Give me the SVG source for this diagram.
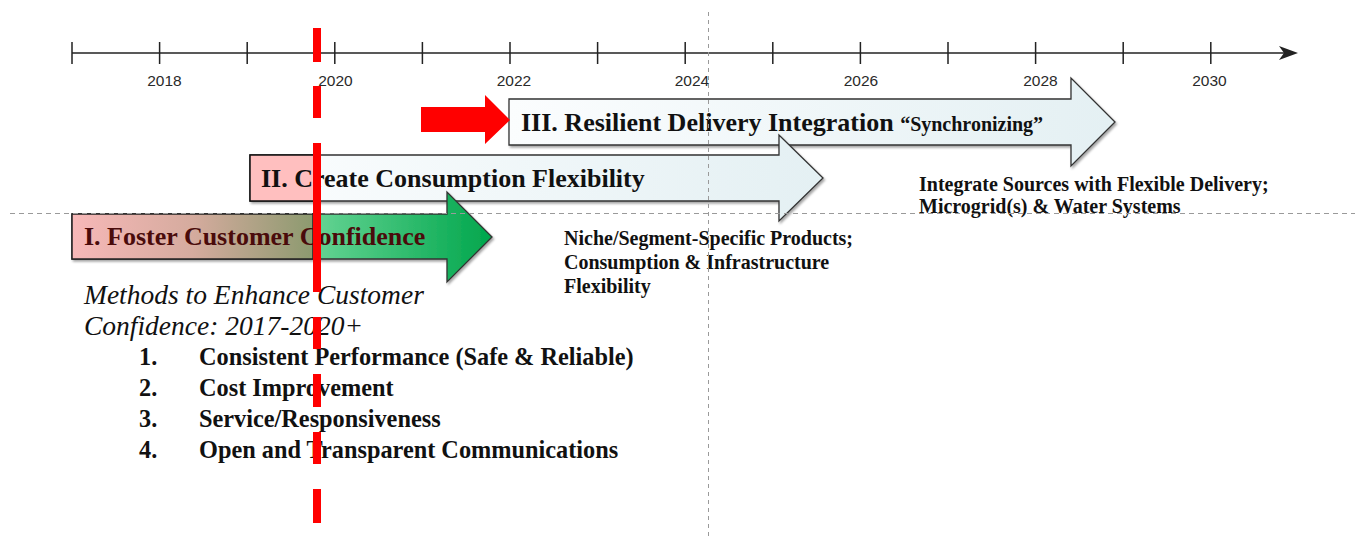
<svg xmlns="http://www.w3.org/2000/svg" width="1355" height="540" viewBox="0 0 1355 540">
  <style>
    .axis { stroke: #222; stroke-width: 1.5; fill: none; }
    .year { font-family: "Liberation Sans", Arial, sans-serif; font-size: 15.5px; fill: #2a2a2a; text-anchor: middle; }
    .phase { stroke: #333; stroke-width: 1.3; filter: url(#shadow); }
    .title { font-family: "Liberation Serif", "Times New Roman", serif; font-weight: bold; font-size: 26px; fill: #111; }
    .note { font-family: "Liberation Serif", "Times New Roman", serif; font-weight: bold; font-size: 20px; fill: #111; }
    .methods { font-family: "Liberation Serif", "Times New Roman", serif; font-style: italic; font-size: 27.5px; fill: #111; }
    .item { font-family: "Liberation Serif", "Times New Roman", serif; font-weight: bold; font-size: 24.3px; fill: #111; }
    .guide { stroke: #9a9a9a; stroke-width: 1; fill: none; }
  </style>
  <defs>
    <filter id="shadow" x="-5%" y="-20%" width="112%" height="150%">
      <feDropShadow dx="1.5" dy="2" stdDeviation="0.8" flood-color="#000" flood-opacity="0.35"/>
    </filter>
    <linearGradient id="paleFill" x1="0" y1="0" x2="1" y2="0">
      <stop offset="0" stop-color="#fbfdfe"/>
      <stop offset="1" stop-color="#e4f0f3"/>
    </linearGradient>
    <linearGradient id="greenFill" gradientUnits="userSpaceOnUse" x1="313" y1="0" x2="492" y2="0">
      <stop offset="0" stop-color="#66d494"/>
      <stop offset="1" stop-color="#00a64c"/>
    </linearGradient>
    <linearGradient id="pinkFill" x1="0" y1="0" x2="1" y2="0">
      <stop offset="0" stop-color="#f7b8b8"/>
      <stop offset="0.5" stop-color="#d5ab9e"/>
      <stop offset="1" stop-color="#8c9a6f"/>
    </linearGradient>
  </defs>

  <!-- time axis -->
  <g id="timeline">
    <path class="axis" d="M72,53 H1292"/>
    <path class="axis" d="M72,42V64 M159.6,42V64 M247.2,42V64 M334.8,42V64 M422.4,42V64 M510,42V64 M597.6,42V64 M685.2,42V64 M772.8,42V64 M860.4,42V64 M948,42V64 M1035.6,42V64 M1123.2,42V64 M1210.8,42V64"/>
    <path d="M1298,53 L1279,46 L1284,53 L1279,60 Z" fill="#222"/>
    <text class="year" x="164.5" y="86">2018</text>
    <text class="year" x="335.5" y="86">2020</text>
    <text class="year" x="514" y="86">2022</text>
    <text class="year" x="692" y="86">2024</text>
    <text class="year" x="861" y="86">2026</text>
    <text class="year" x="1040.5" y="86">2028</text>
    <text class="year" x="1209.5" y="86">2030</text>
  </g>

  <!-- phase III -->
  <g id="phase3">
    <path class="phase" fill="url(#paleFill)" d="M509,99 H1071 V78 L1115,122 L1071,166 V145 H509 Z"/>
    <text class="title" x="521" y="131">III. Resilient Delivery Integration <tspan font-size="20px">“Synchronizing”</tspan></text>
  </g>
  <g id="phase3-start">
    <path fill="#ff0000" d="M421,107 H485 V95 L510,120 L485,144 V132 H421 Z"/>
  </g>

  <!-- phase II -->
  <g id="phase2">
    <path class="phase" fill="url(#paleFill)" d="M250,155 H779 V135 L823,178 L779,221 V201 H250 Z"/>
    <rect x="250" y="155" width="67" height="46" fill="#ffbfbf" stroke="#111" stroke-width="1.5"/>
    <text class="title" x="261" y="187">II. Create Consumption Flexibility</text>
  </g>

  <!-- phase I -->
  <g id="phase1">
    <path class="phase" fill="url(#greenFill)" d="M72,214 H447 V192 L492,237 L447,282 V259 H72 Z"/>
    <rect x="72" y="214" width="241" height="45" fill="url(#pinkFill)" stroke="#222" stroke-width="1.5"/>
    <text class="title" x="84" y="245" style="fill:#4a0b0b">I. Foster Customer Confidence</text>
  </g>

  <!-- phase notes -->
  <g id="note3">
    <text class="note" x="919" y="191">Integrate Sources with Flexible Delivery;</text>
    <text class="note" x="919" y="213">Microgrid(s) &amp; Water Systems</text>
  </g>
  <g id="note2">
    <text class="note" x="564" y="245">Niche/Segment-Specific Products;</text>
    <text class="note" x="564" y="269">Consumption &amp; Infrastructure</text>
    <text class="note" x="564" y="293">Flexibility</text>
  </g>
  <g id="methods">
    <text class="methods" x="84" y="304">Methods to Enhance Customer</text>
    <text class="methods" x="84" y="335">Confidence: 2017-2020+</text>
    <text class="item" x="139" y="365">1.</text>
    <text class="item" x="199" y="365">Consistent Performance (Safe &amp; Reliable)</text>
    <text class="item" x="139" y="396">2.</text>
    <text class="item" x="199" y="396">Cost Improvement</text>
    <text class="item" x="139" y="427">3.</text>
    <text class="item" x="199" y="427">Service/Responsiveness</text>
    <text class="item" x="139" y="458">4.</text>
    <text class="item" x="199" y="458">Open and Transparent Communications</text>
  </g>

  <!-- guide lines and current-date marker -->
  <g id="connectors">
    <path class="guide" stroke-dasharray="5 4" d="M10,213.5 H1355"/>
    <path class="guide" stroke-dasharray="4 4" d="M708.5,12 V540"/>
    <path stroke="#ff0000" stroke-width="8" fill="none" d="M317,28V62 M317,86V118 M317,143V292 M317,317V349 M317,374V407 M317,432V464 M317,489V523"/>
  </g>
</svg>
